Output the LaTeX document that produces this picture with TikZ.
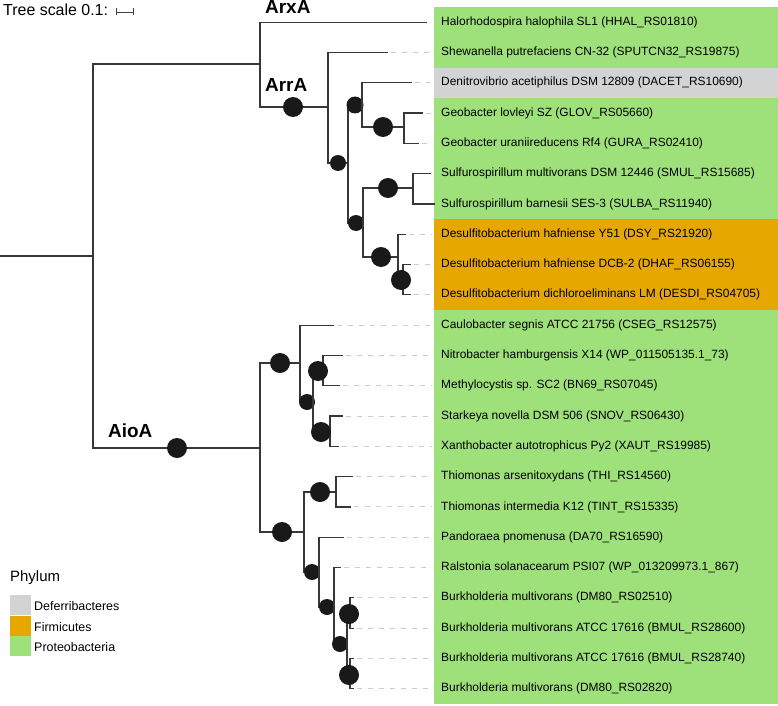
\documentclass[tikz,border=0pt]{standalone}
\usepackage{fontspec}
\setmainfont{Liberation Sans}
\tikzstyle{treePlot} = [x = 1bp, y = -1bp]
\definecolor{proteoColor}{RGB}{158,224,122}
\definecolor{firmiColor}{RGB}{230,168,0}
\definecolor{deferriColor}{RGB}{211,211,211}
\definecolor{branchColor}{RGB}{55,55,55}
\tikzstyle{branchLine} = [color=branchColor, line width=1.2bp, line cap=rect]
\tikzstyle{leaderLine} = [color=black!20, line width=1bp, dash pattern=on 5bp off 6bp]
\tikzstyle{supportDot} = [fill=black!90]
\tikzstyle{taxonText} = [anchor=west, inner sep=0, font=\fontsize{12}{14}\selectfont]
\tikzstyle{geneText} = [anchor=base west, inner sep=0, font=\fontsize{19}{22}\selectfont\bfseries]
\tikzstyle{legendText} = [anchor=base west, inner sep=0, font=\fontsize{12.5}{15}\selectfont]
\tikzstyle{scaleBar} = [color=black!75, line width=.8bp]
\newcommand{\rowH}{30.3}
\newcommand{\taxon}[3]{\fill [#2] (434, 7 + \rowH * #1) rectangle + (344, \rowH); \node [taxonText] (taxon#1) at (441, 22.15 + \rowH * #1) {#3};}
\newcommand{\leaf}[3]{\draw [branchLine] (#1, 22.15 + \rowH * #3) -- (#2, 22.15 + \rowH * #3); \draw [leaderLine] (#2 + 4, 22.15 + \rowH * #3) -- (432, 22.15 + \rowH * #3);}
\newcommand{\leafSolid}[3]{\draw [branchLine] (#1, 22.15 + \rowH * #3) -- (#2, 22.15 + \rowH * #3);}
\newcommand{\vBranch}[3]{\draw [branchLine] (#1, #2) -- (#1, #3);}
\newcommand{\hBranch}[3]{\draw [branchLine] (#1, #3) -- (#2, #3);}
\newcommand{\support}[3]{\fill [supportDot] (#1, #2) circle (#3bp);}
\newcommand{\legendEntry}[4]{\fill [#2] (10, #1) rectangle + (21, 20); \node [legendText] (legend#3) at (34, #1 + 15) {#4};}

\begin{document}
\begin{tikzpicture}[treePlot]
      \useasboundingbox (0,0) rectangle (778,706);

      \taxon{0}{proteoColor}{Halorhodospira halophila SL1 (HHAL\_RS01810)}
      \taxon{1}{proteoColor}{Shewanella putrefaciens CN-32 (SPUTCN32\_RS19875)}
      \taxon{2}{deferriColor}{Denitrovibrio acetiphilus DSM 12809 (DACET\_RS10690)}
      \taxon{3}{proteoColor}{Geobacter lovleyi SZ (GLOV\_RS05660)}
      \taxon{4}{proteoColor}{Geobacter uraniireducens Rf4 (GURA\_RS02410)}
      \taxon{5}{proteoColor}{Sulfurospirillum multivorans DSM 12446 (SMUL\_RS15685)}
      \taxon{6}{proteoColor}{Sulfurospirillum barnesii SES-3 (SULBA\_RS11940)}
      \taxon{7}{firmiColor}{Desulfitobacterium hafniense Y51 (DSY\_RS21920)}
      \taxon{8}{firmiColor}{Desulfitobacterium hafniense DCB-2 (DHAF\_RS06155)}
      \taxon{9}{firmiColor}{Desulfitobacterium dichloroeliminans LM (DESDI\_RS04705)}
      \taxon{10}{proteoColor}{Caulobacter segnis ATCC 21756 (CSEG\_RS12575)}
      \taxon{11}{proteoColor}{Nitrobacter hamburgensis X14 (WP\_011505135.1\_73)}
      \taxon{12}{proteoColor}{Methylocystis sp. SC2 (BN69\_RS07045)}
      \taxon{13}{proteoColor}{Starkeya novella DSM 506 (SNOV\_RS06430)}
      \taxon{14}{proteoColor}{Xanthobacter autotrophicus Py2 (XAUT\_RS19985)}
      \taxon{15}{proteoColor}{Thiomonas arsenitoxydans (THI\_RS14560)}
      \taxon{16}{proteoColor}{Thiomonas intermedia K12 (TINT\_RS15335)}
      \taxon{17}{proteoColor}{Pandoraea pnomenusa (DA70\_RS16590)}
      \taxon{18}{proteoColor}{Ralstonia solanacearum PSI07 (WP\_013209973.1\_867)}
      \taxon{19}{proteoColor}{Burkholderia multivorans (DM80\_RS02510)}
      \taxon{20}{proteoColor}{Burkholderia multivorans ATCC 17616 (BMUL\_RS28600)}
      \taxon{21}{proteoColor}{Burkholderia multivorans ATCC 17616 (BMUL\_RS28740)}
      \taxon{22}{proteoColor}{Burkholderia multivorans (DM80\_RS02820)}

      \node [anchor=base west, inner sep=0, font=\fontsize{16}{18}\selectfont] (scaleLabel) at (3, 15.5) {Tree scale 0.1:};
      \draw [scaleBar] (116, 12) -- (133, 12);
      \draw [scaleBar] (116, 8.5) -- (116, 15.5);
      \draw [scaleBar] (133, 8.5) -- (133, 15.5);

      \hBranch{0}{93}{256}
      \vBranch{93}{64}{448}
      \hBranch{93}{260}{64}
      \vBranch{260}{22.15}{107}
      \leafSolid{260}{426}{0}
      \hBranch{260}{328}{107}
      \support{293}{107}{10}
      \vBranch{328}{52.45}{163}
      \leaf{328}{387}{1}
      \hBranch{328}{348}{163}
      \support{338}{163}{8}
      \vBranch{348}{105}{223}
      \hBranch{348}{362}{105}
      \support{355}{105}{8.5}
      \vBranch{362}{82.75}{127}
      \leaf{362}{411}{2}
      \hBranch{362}{404}{127}
      \support{383}{127}{10}
      \vBranch{404}{113.05}{143.35}
      \leaf{404}{422}{3}
      \leaf{404}{418}{4}
      \hBranch{348}{363}{223}
      \support{356}{223}{8}
      \vBranch{363}{188}{257}
      \hBranch{363}{413}{188}
      \support{388}{188}{10}
      \vBranch{413}{173.65}{203.95}
      \leafSolid{413}{430}{5}
      \leafSolid{413}{434}{6}
      \hBranch{363}{398}{257}
      \support{381}{257}{10}
      \vBranch{398}{234.25}{280}
      \leaf{398}{405}{7}
      \hBranch{398}{403}{280}
      \vBranch{403}{264.55}{294.85}
      \leaf{403}{410}{8}
      \leaf{403}{410}{9}
      \support{401}{280}{10}

      \hBranch{93}{260}{448}
      \support{177}{448}{10}
      \vBranch{260}{363}{532}
      \hBranch{260}{300}{363}
      \support{280}{363}{10}
      \vBranch{300}{325.15}{402}
      \leaf{300}{333}{10}
      \hBranch{300}{313}{402}
      \support{307}{402}{8}
      \vBranch{313}{371}{432}
      \hBranch{313}{323}{371}
      \vBranch{323}{355.45}{385.75}
      \leaf{323}{342}{11}
      \leaf{323}{339}{12}
      \support{318}{371}{10}
      \hBranch{313}{330}{432}
      \vBranch{330}{416.05}{446.35}
      \leaf{330}{342}{13}
      \leaf{330}{338}{14}
      \support{321}{432}{10}
      \hBranch{260}{304}{532}
      \support{282}{532}{10}
      \vBranch{304}{492}{572}
      \hBranch{304}{336}{492}
      \support{320}{492}{10}
      \vBranch{336}{476.65}{506.95}
      \leaf{336}{352}{15}
      \leaf{336}{350}{16}
      \hBranch{304}{319}{572}
      \support{312}{572}{8}
      \vBranch{319}{537.25}{607}
      \leaf{319}{343}{17}
      \hBranch{319}{334}{607}
      \support{327}{607}{8}
      \vBranch{334}{567.55}{644}
      \leaf{334}{340}{18}
      \hBranch{334}{347}{644}
      \support{340}{644}{8}
      \vBranch{347}{614}{675}
      \hBranch{347}{350}{614}
      \vBranch{350}{597.85}{628.15}
      \leaf{350}{353}{19}
      \leaf{350}{353}{20}
      \support{349}{614}{10}
      \hBranch{347}{350}{675}
      \vBranch{350}{658.45}{688.75}
      \leaf{350}{353}{21}
      \leaf{350}{353}{22}
      \support{349}{675}{10}

      \node [geneText] (arxLabel) at (265, 14) {ArxA};
      \node [geneText] (arrLabel) at (265, 92) {ArrA};
      \node [geneText] (aioLabel) at (108, 437) {AioA};

      \node [anchor=base west, inner sep=0, font=\fontsize{15}{18}\selectfont] (legendTitle) at (10, 581) {Phylum};
      \legendEntry{595}{deferriColor}{Deferri}{Deferribacteres}
      \legendEntry{616}{firmiColor}{Firmi}{Firmicutes}
      \legendEntry{636}{proteoColor}{Proteo}{Proteobacteria}
\end{tikzpicture}
\end{document}
